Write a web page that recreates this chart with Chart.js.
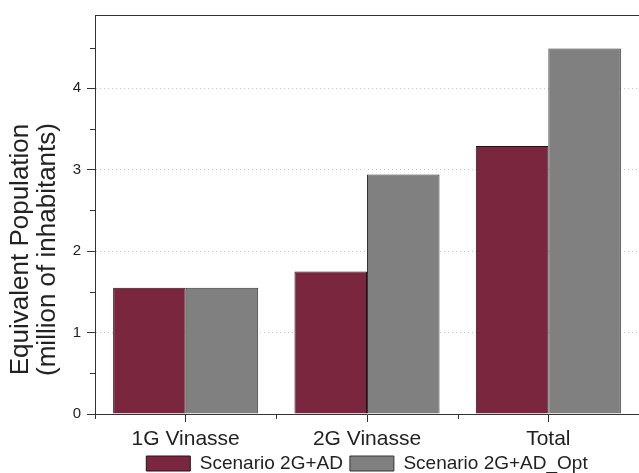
<!DOCTYPE html>
<html><head><meta charset="utf-8">
<script src="https://cdn.jsdelivr.net/npm/chart.js@4"></script>
<style>html,body{margin:0;padding:0;background:#fff;overflow:hidden}#wrap{width:639px;height:473px;position:relative}</style>
</head><body><div id="wrap"><canvas id="c"></canvas></div>
<script>
const categories = ['1G Vinasse', '2G Vinasse', 'Total'];
const seriesNames = ['Scenario 2G+AD', 'Scenario 2G+AD_Opt'];
const scenarioAD = [1.55, 1.75, 3.29];
const scenarioADOpt = [1.55, 2.94, 4.49];
const yTicks = [0, 1, 2, 3, 4];
const yMinorTicks = [0.5, 1.5, 2.5, 3.5, 4.5];
const yTitleLines = ['Equivalent Population', '(million of inhabitants)'];

const FONT = '"Liberation Sans", Arial, sans-serif';
const INK = '#222';

const decor = {
  id: 'decor',
  afterDraw(chart) {
    const ctx = chart.ctx;
    const a = chart.chartArea;
    const xs = chart.scales.x, ys = chart.scales.y;
    ctx.save();
    ctx.strokeStyle = '#333';
    ctx.lineWidth = 1;
    // top frame line
    ctx.beginPath();
    ctx.moveTo(a.left, a.top + 0.5);
    ctx.lineTo(a.right, a.top + 0.5);
    ctx.stroke();
    // minor ticks (y at half units, x at category boundaries)
    ctx.beginPath();
    yMinorTicks.forEach(v => {
      const p = Math.round(ys.getPixelForValue(v)) + 0.5;
      ctx.moveTo(a.left - 5, p); ctx.lineTo(a.left, p);
    });
    for (let i = 0; i <= categories.length; i++) {
      const p = Math.round(xs.getPixelForValue(i - 0.5)) + 0.5;
      ctx.moveTo(p, a.bottom); ctx.lineTo(p, a.bottom + 5);
    }
    ctx.stroke();
    // y title (two lines)
    ctx.fillStyle = INK;
    ctx.font = '26px ' + FONT;
    ctx.textAlign = 'center';
    ctx.textBaseline = 'middle';
    const cy = (a.top + a.bottom) / 2 + 35;
    const xsT = [21, 48];
    yTitleLines.forEach((t, i) => {
      ctx.save();
      ctx.translate(xsT[i], cy);
      ctx.rotate(-Math.PI / 2);
      ctx.fillText(t, 0, 0);
      ctx.restore();
    });
    ctx.restore();
  }
};

new Chart(document.getElementById('c'), {
  type: 'bar',
  data: {
    labels: categories,
    datasets: [
      { label: seriesNames[0], data: scenarioAD, backgroundColor: '#7a263f', borderColor: '#2a1018', borderWidth: 1 },
      { label: seriesNames[1], data: scenarioADOpt, backgroundColor: '#808080', borderColor: '#333333', borderWidth: 1 }
    ]
  },
  options: {
    responsive: true,
    maintainAspectRatio: false,
    animation: false,
    devicePixelRatio: 1,
    categoryPercentage: 0.8,
    barPercentage: 1,
    layout: { padding: { left: 67, right: 0, top: 13, bottom: -10 } },
    plugins: {
      legend: {
        position: 'bottom',
        fullSize: false,
        labels: {
          boxWidth: 44, boxHeight: 15, padding: 7,
          color: INK, font: { family: FONT, size: 19 }
        }
      },
      tooltip: { enabled: false }
    },
    scales: {
      x: {
        afterFit: (s) => { s.height = 33; },
        ticks: {
          autoSkip: false, maxRotation: 0, padding: 5,
          color: INK, font: { family: FONT, size: 21 }
        },
        grid: { offset: false, drawOnChartArea: false, drawTicks: true, tickLength: 8, tickColor: '#333', tickWidth: 1 },
        border: { display: true, color: '#333', width: 1 }
      },
      y: {
        min: 0, max: 4.9,
        afterBuildTicks: (s) => { s.ticks = yTicks.map(v => ({ value: v })); },
        afterFit: (s) => { s.width = 28; },
        ticks: { padding: 6, color: INK, font: { family: FONT, size: 15 } },
        grid: { color: '#c8c8c8', lineWidth: 1, drawTicks: true, tickLength: 8, tickColor: '#333', tickWidth: 1, tickBorderDash: [] },
        border: { display: true, color: '#333', width: 1, dash: [1, 3] }
      }
    }
  },
  plugins: [decor]
});
</script>
</body></html>
